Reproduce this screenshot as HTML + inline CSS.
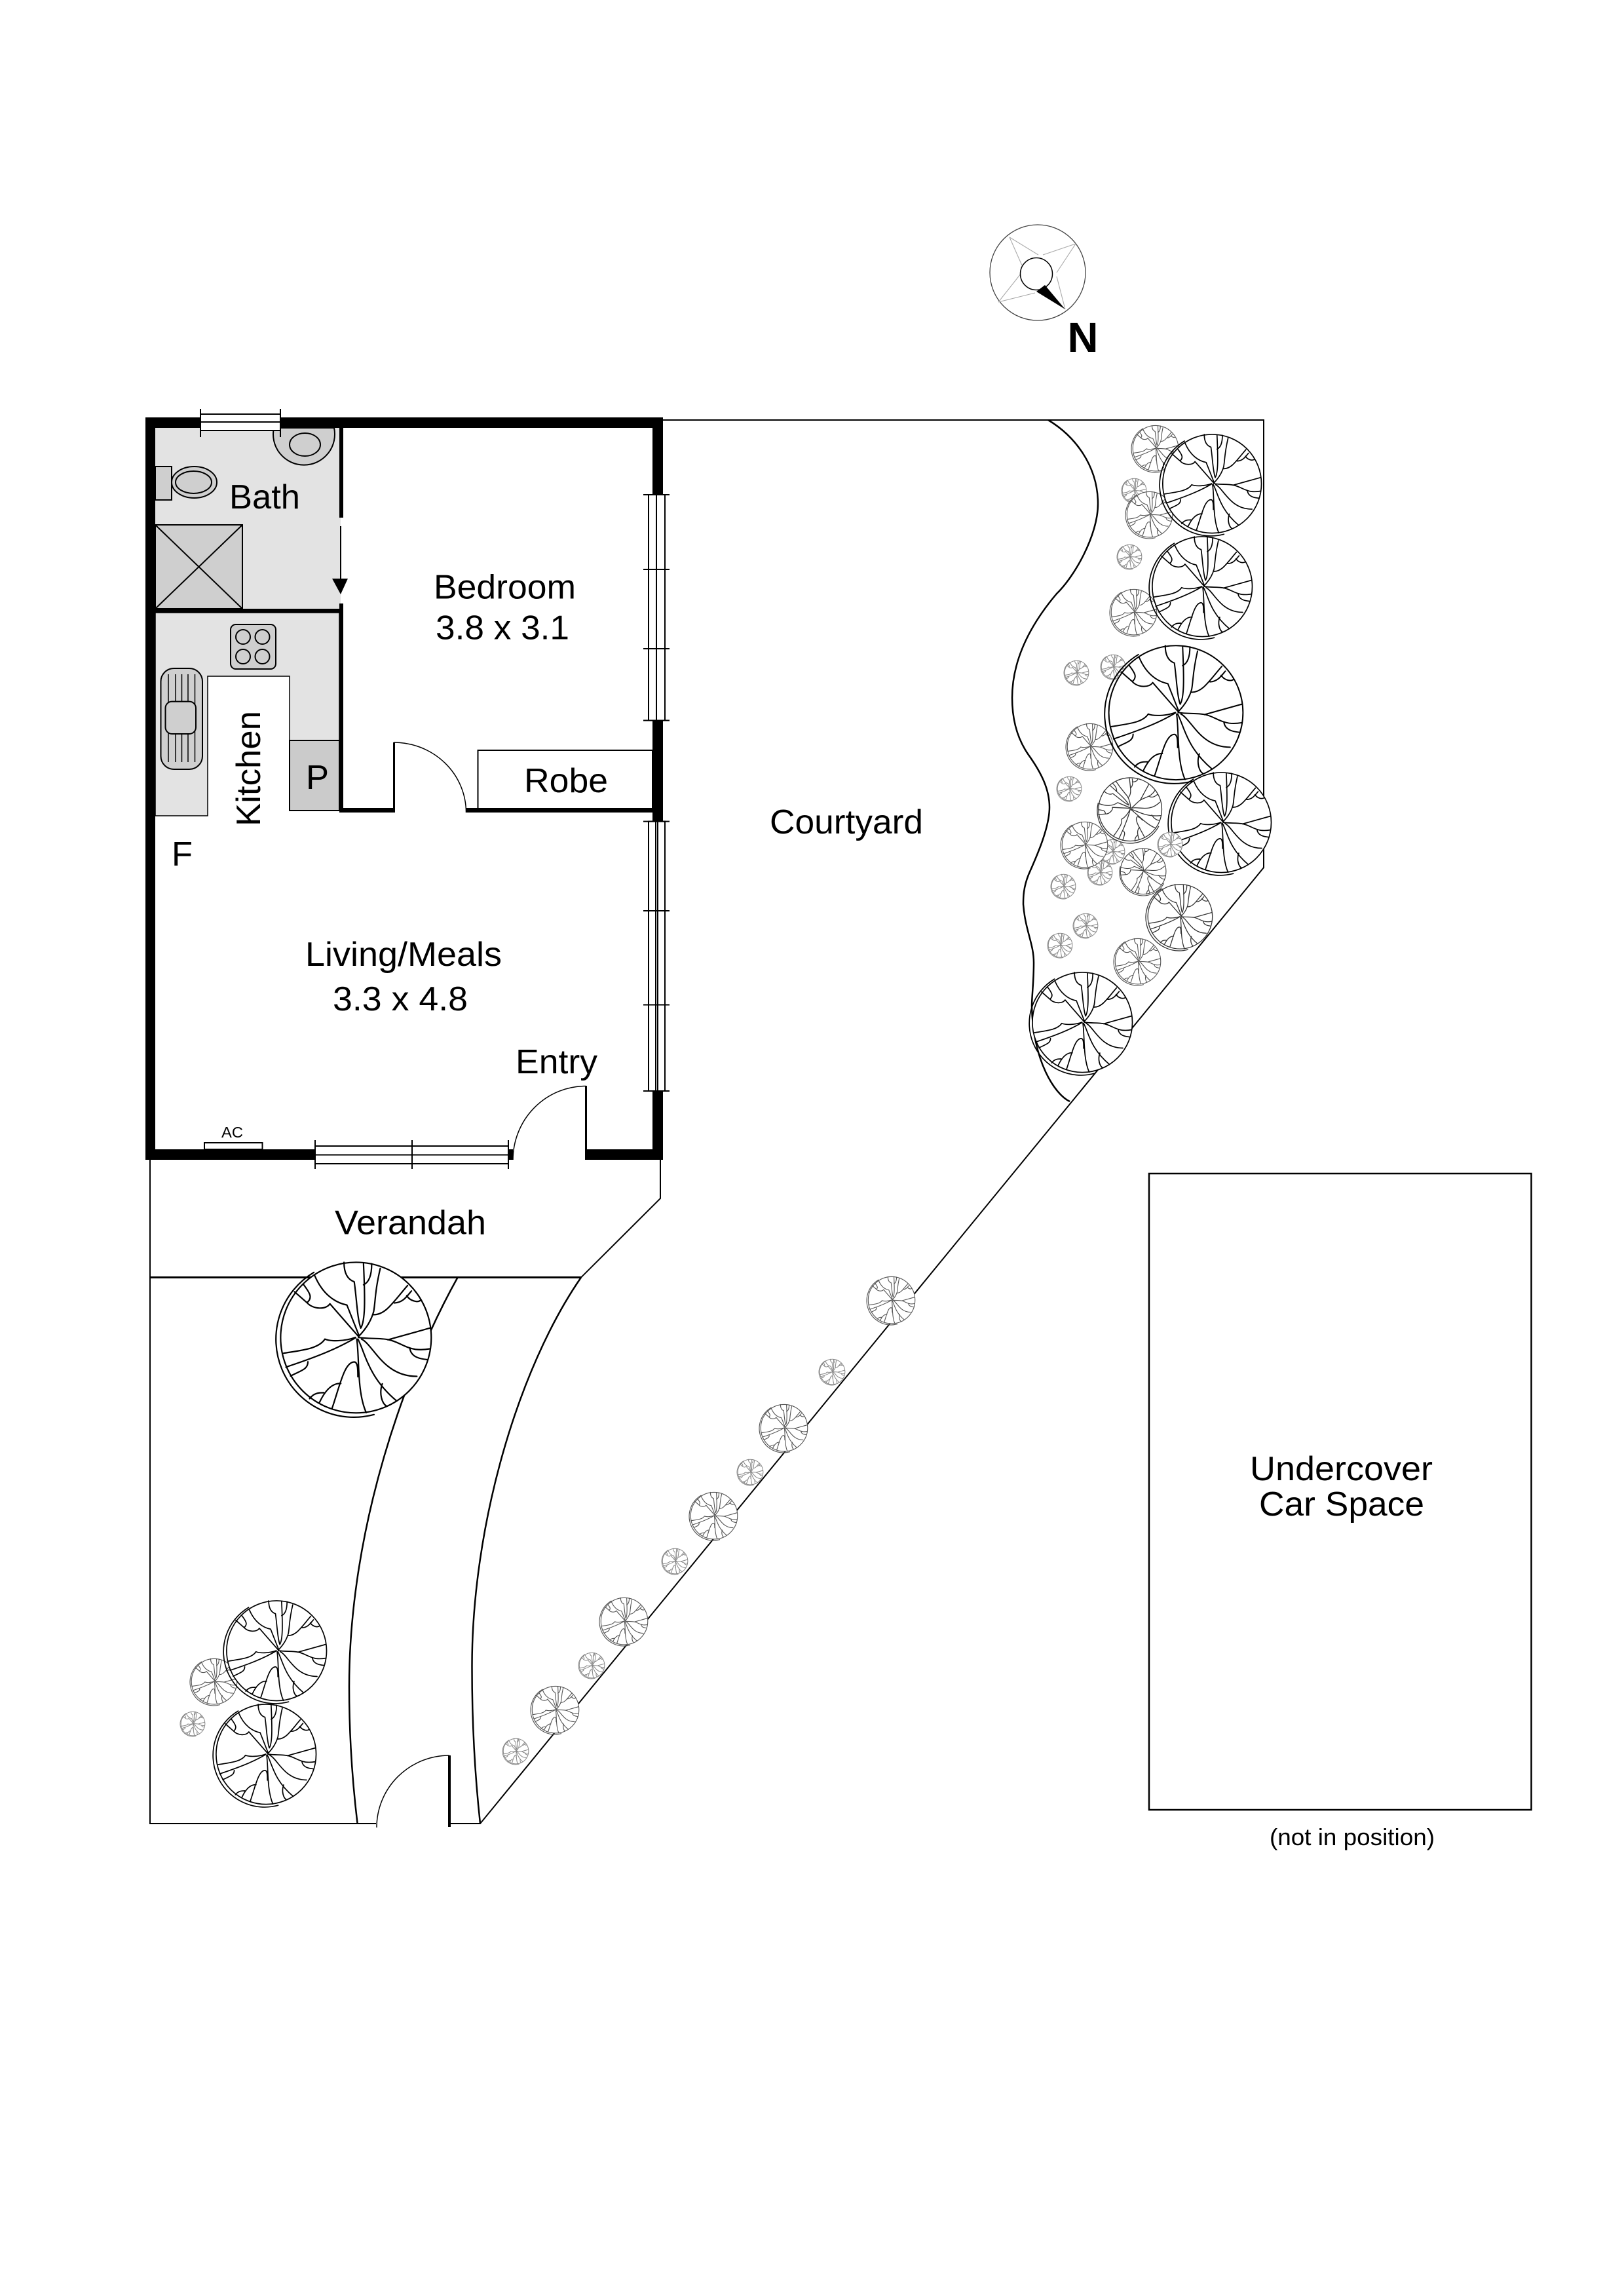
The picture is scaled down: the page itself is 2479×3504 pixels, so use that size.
<!DOCTYPE html>
<html><head><meta charset="utf-8"><style>html,body{margin:0;padding:0;background:#fff}svg{display:block}text{font-family:"Liberation Sans",Arial,sans-serif;fill:#000}path,circle{vector-effect:non-scaling-stroke}</style></head><body>
<svg xmlns="http://www.w3.org/2000/svg" width="2479" height="3504" viewBox="0 0 2479 3504">
<defs>
<g id="t" fill="none" stroke-linecap="round" stroke-linejoin="round">
<path d="M-51.200,-85.900A100,100 0 0 0 26,96.500"/>
<circle cx="2.800" cy="-2.200" r="96.600" fill="#fff"/>
<path d="M-12.500,-98.800C-12.500,-86 -8.800,-77 0.600,-73.800C3.800,-52 4.400,-27 9,-14.400C14.700,-23.800 14.700,-48.800 12.500,-97M12.500,-70C21,-73.800 23,-86 23,-97"/>
<path d="M6.900,-4.400C19.400,-17.500 24,-30 25.600,-36C28,-50 27,-61 34,-91M25.600,-31.600C41,-31.600 50,-47 69,-69M52,-46.600C63,-47 68,-55 74,-62M68,-56C72.500,-48.800 82,-47 85.600,-50"/>
<path d="M6.900,-4.400L-8.800,-44C-24,-47 -40,-58 -50,-81.600"/>
<path d="M6.300,-3.400L-30.600,-45.600C-35,-38 -52,-38 -60,-47L-76,-61M-65,-71C-55,-58 -53,-53 -60,-47"/>
<path d="M2.200,-2.500C-12,2.800 -30,2.800 -37,-0.300C-45,12 -65,13.800 -90,17.800"/>
<path d="M2.200,-1.900C-21,12 -49,23 -87,35.600M-58.800,28.800C-58.800,38.800 -68,40 -81,47"/>
<path d="M3.800,-0.300C7.500,23 3.800,67 16,94M5.300,-0.300C14.700,17 18,48 55,79M10,-0.300C25.600,7.500 38,47.500 81,47.500M36.600,57C32,70 36.600,82.500 42,85.600"/>
<path d="M-28,89C-18,60 -12,29 0.600,29C5.300,29 5.300,39 5.300,48M-44,81C-36,64 -27,56 -16.600,56.600M-56.600,76C-51,68.400 -44,68.400 -38.400,68.400"/>
<path d="M6,-2.500C19.400,-0.300 32,-1.900 44,0.300C57,2.800 65,10.600 79,12.800C87,13.800 94,12.800 97.500,12.200M43.800,0.600L97.500,-14.400M72,12C74,23 85,25 94,26"/>
</g>
</defs>

<!-- floors -->
<rect x="237" y="653" width="283" height="276" fill="#e3e3e3"/>
<path d="M237,935H518V1130H442V1032H317V1245H237Z" fill="#e3e3e3" stroke="#000" stroke-width="1.500"/>
<rect x="442" y="1130" width="76" height="107" fill="#cbcbcb" stroke="#000" stroke-width="2"/>

<!-- site lines -->
<g fill="none" stroke="#000">
<path stroke-width="2" d="M1012,641H1929V1324L733,2783H688M229,1770V2783H574M1008,1770V1829L887,1949.500" />
<path stroke-width="3" d="M229,1949.500H887"/>
<path stroke-width="2.500" d="M887,1949.500C790,2090 720,2330 720.500,2545.600C720.500,2630 725,2710 733,2783"/>
<path stroke-width="2.500" d="M698.600,1949.500C620,2090 533,2330 533,2574C533,2650 538,2720 545.600,2783"/>
<path stroke-width="2.500" d="M1600,641C1640,665 1676,710 1676,769C1676,817 1640,880 1613,906C1580,945 1545,1000 1545,1065C1545,1115 1563,1142 1570,1152C1590,1180 1602,1205 1602,1232C1602,1265 1580,1312 1570,1335C1562,1355 1562,1370 1562,1380C1565,1420 1578,1440 1578,1469C1578,1500 1575,1520 1575,1536C1577,1620 1610,1670 1633,1681"/>
<rect stroke-width="2.500" x="1754" y="1791" width="583.500" height="971"/>
</g>

<!-- walls -->
<g fill="#000">
<rect x="222" y="637" width="790" height="16"/>
<rect x="222" y="637" width="15" height="1133"/>
<rect x="996" y="637" width="16" height="118"/>
<rect x="996" y="1099" width="16" height="155"/>
<rect x="996" y="1665" width="16" height="105"/>
<rect x="222" y="1754" width="259" height="16"/>
<rect x="776" y="1754" width="7" height="16"/>
<rect x="894" y="1754" width="118" height="16"/>
<rect x="518" y="653" width="6" height="137"/>
<rect x="518" y="921" width="6" height="319"/>
<rect x="237" y="929" width="287" height="6"/>
<rect x="518" y="1233" width="84" height="7"/>
<rect x="711.500" y="1233" width="285" height="7"/>
<rect x="600" y="1133" width="3" height="107"/>
<rect x="893" y="1657" width="3" height="113"/>
<rect x="684" y="2679" width="4" height="109"/>
</g>

<!-- fixtures -->
<g stroke="#000" stroke-width="2" fill="#cfcfcf">
<path d="M418,653A47,47 0 1 0 510,653Z"/>
<ellipse cx="465.500" cy="678.500" rx="23.500" ry="17.500"/>
<rect x="237" y="801" width="133" height="128"/>
<path fill="none" d="M237,801L370,929M370,801L237,929"/>
<rect x="237" y="712" width="25" height="51"/>
<ellipse cx="296.500" cy="736" rx="34.500" ry="24"/>
<ellipse cx="295.500" cy="736" rx="27.500" ry="17"/>
<rect x="352" y="953" width="69" height="68" rx="8"/>
<ellipse cx="371" cy="972" rx="11" ry="11"/><ellipse cx="400.500" cy="972" rx="11" ry="11"/>
<ellipse cx="371" cy="1002" rx="11" ry="11"/><ellipse cx="400.500" cy="1002" rx="11" ry="11"/>
<rect x="245.500" y="1020" width="63.500" height="154" rx="20"/>
<path fill="none" stroke-width="1.500" d="M257,1029V1163M268,1029V1163M277.500,1029V1163M287,1029V1163M297.500,1029V1163"/>
<rect x="252.500" y="1070.600" width="46.500" height="49.400" rx="10"/>
</g>

<!-- windows -->
<g fill="#fff" stroke="#000" stroke-width="2">
<rect x="306" y="632" width="122" height="25"/>
<path fill="none" d="M306,644H428M306,624V667M428,624V667"/>
<rect x="990" y="755" width="25" height="344.500"/>
<path fill="none" d="M1002,755V1099.500M982,755H1022M982,869H1022M982,990H1022M982,1099.500H1022"/>
<rect x="990" y="1253.600" width="25" height="411.400"/>
<path fill="none" d="M1001,1253.600V1665M1004,1253.600V1665M982,1253.600H1022M982,1390H1022M982,1533.500H1022M982,1665H1022"/>
<rect x="481" y="1749" width="295" height="27"/>
<path fill="none" d="M481,1762.500H776M481,1740V1784M629,1740V1784M776,1740V1784"/>
</g>

<rect x="729.500" y="1145" width="266.500" height="90" fill="none" stroke="#000" stroke-width="2"/>
<rect x="312" y="1744" width="88.500" height="10" fill="none" stroke="#000" stroke-width="2"/>
<path d="M520,803V885" stroke="#000" stroke-width="2"/>
<path d="M507,883H531L520,907Z" fill="#000"/>

<!-- doors -->
<g fill="none" stroke="#000" stroke-width="1.500">
<path d="M601,1133A110.500,107 0 0 1 711.500,1240"/>
<path d="M783,1770A111,113 0 0 1 894,1657.500"/>
<path d="M575,2789A111,110 0 0 1 686,2679"/>
</g>

<!-- trees -->
<g>
<use href="#t" transform="translate(1731,749) scale(.19)" stroke="#888" stroke-width="1"/>
<use href="#t" transform="translate(1763,685) scale(.36)" stroke="#555" stroke-width="1.100"/>
<use href="#t" transform="translate(1754,786) scale(.36)" stroke="#555" stroke-width="1.100"/>
<use href="#t" transform="translate(1724,850) scale(.19)" stroke="#888" stroke-width="1"/>
<use href="#t" transform="translate(1730,935) scale(.36)" stroke="#555" stroke-width="1.100"/>
<use href="#t" transform="translate(1699,1018) scale(.19)" stroke="#888" stroke-width="1"/>
<use href="#t" transform="translate(1643,1027) scale(.19)" stroke="#888" stroke-width="1"/>
<use href="#t" transform="translate(1663,1140) scale(.36)" stroke="#555" stroke-width="1.100"/>
<use href="#t" transform="translate(1632,1204) scale(.19)" stroke="#888" stroke-width="1"/>
<use href="#t" transform="translate(1698,1300) scale(.19)" stroke="#888" stroke-width="1"/>
<use href="#t" transform="translate(1679,1332) scale(.19)" stroke="#888" stroke-width="1"/>
<use href="#t" transform="translate(1655,1290) scale(.36)" stroke="#555" stroke-width="1.100"/>
<use href="#t" transform="translate(1623,1353) scale(.19)" stroke="#888" stroke-width="1"/>
<use href="#t" transform="translate(1657,1413) scale(.19)" stroke="#888" stroke-width="1"/>
<use href="#t" transform="translate(1618,1443) scale(.19)" stroke="#888" stroke-width="1"/>
<use href="#t" transform="translate(1745,1331) rotate(-46) scale(.36)" stroke="#444" stroke-width="1.100"/>
<use href="#t" transform="translate(1736,1468) scale(.36)" stroke="#555" stroke-width="1.100"/>
<use href="#t" transform="translate(1800,1400) scale(.51)" stroke="#333" stroke-width="1.300"/>
<use href="#t" transform="translate(1725,1237) rotate(-46) scale(.5)" stroke="#333" stroke-width="1.300"/>
<use href="#t" transform="translate(1848,740) scale(.78)" stroke="#000" stroke-width="1.700"/>
<use href="#t" transform="translate(1833,897) scale(.79)" stroke="#000" stroke-width="1.700"/>
<use href="#t" transform="translate(1862,1257) scale(.79)" stroke="#000" stroke-width="1.700"/>
<use href="#t" transform="translate(1792,1090) scale(1.060)" stroke="#000" stroke-width="2"/>
<use href="#t" transform="translate(1786,1289) scale(.19)" stroke="#888" stroke-width="1"/>
<use href="#t" transform="translate(1650,1562) scale(.79)" stroke="#000" stroke-width="1.700"/>
<use href="#t" transform="translate(1360,1985) scale(.37)" stroke="#555" stroke-width="1.100"/>
<use href="#t" transform="translate(1270,2094) scale(.2)" stroke="#888" stroke-width="1"/>
<use href="#t" transform="translate(1196,2180) scale(.37)" stroke="#555" stroke-width="1.100"/>
<use href="#t" transform="translate(1145,2247) scale(.2)" stroke="#888" stroke-width="1"/>
<use href="#t" transform="translate(1089,2314) scale(.37)" stroke="#555" stroke-width="1.100"/>
<use href="#t" transform="translate(1030,2383) scale(.2)" stroke="#888" stroke-width="1"/>
<use href="#t" transform="translate(952,2475) scale(.37)" stroke="#555" stroke-width="1.100"/>
<use href="#t" transform="translate(903,2542) scale(.2)" stroke="#888" stroke-width="1"/>
<use href="#t" transform="translate(847,2610) scale(.37)" stroke="#555" stroke-width="1.100"/>
<use href="#t" transform="translate(787,2673) scale(.2)" stroke="#888" stroke-width="1"/>
<use href="#t" transform="translate(326,2567) scale(.36)" stroke="#555" stroke-width="1.100"/>
<use href="#t" transform="translate(294,2631) scale(.19)" stroke="#888" stroke-width="1"/>
<use href="#t" transform="translate(420,2521) scale(.79)" stroke="#000" stroke-width="1.700"/>
<use href="#t" transform="translate(404,2679) scale(.79)" stroke="#000" stroke-width="1.700"/>
<use href="#t" transform="translate(540,2044) scale(1.190)" stroke="#000" stroke-width="2.200"/>
</g>

<!-- compass -->
<g fill="none">
<circle cx="1584" cy="416" r="73" stroke="#444" stroke-width="1.300"/>
<path stroke="#aaa" stroke-width="1.100" d="M1541,362L1585,389M1541,362L1560,405M1592,389L1642,372L1613,416M1613,422L1626,472M1524,461L1558,418M1524,461L1580,447"/>
<circle cx="1582" cy="418" r="24.500" stroke="#000" stroke-width="1.500"/>
</g>
<path d="M1582,445L1595,435L1626,472Z" fill="#000"/>
<text x="1629.500" y="537" font-size="64" font-weight="700" textLength="47" lengthAdjust="spacingAndGlyphs">N</text>

<!-- labels -->
<g font-size="52">
<text x="350" y="776" textLength="108" lengthAdjust="spacingAndGlyphs">Bath</text>
<text x="662" y="913.500" textLength="217" lengthAdjust="spacingAndGlyphs">Bedroom</text>
<text x="665" y="975.500" textLength="204" lengthAdjust="spacingAndGlyphs">3.8 x 3.1</text>
<text x="800" y="1209" textLength="128" lengthAdjust="spacingAndGlyphs">Robe</text>
<text x="467" y="1204" textLength="35" lengthAdjust="spacingAndGlyphs">P</text>
<text x="262" y="1321" textLength="32" lengthAdjust="spacingAndGlyphs">F</text>
<text transform="translate(397,1261) rotate(-90)" x="0" y="0" textLength="176" lengthAdjust="spacingAndGlyphs">Kitchen</text>
<text x="466" y="1474" textLength="300" lengthAdjust="spacingAndGlyphs">Living/Meals</text>
<text x="508" y="1542" textLength="206" lengthAdjust="spacingAndGlyphs">3.3 x 4.8</text>
<text x="787" y="1638" textLength="125" lengthAdjust="spacingAndGlyphs">Entry</text>
<text x="511" y="1883.500" textLength="231" lengthAdjust="spacingAndGlyphs">Verandah</text>
<text x="1175" y="1272" textLength="234" lengthAdjust="spacingAndGlyphs">Courtyard</text>
<text x="1908" y="2259" textLength="279" lengthAdjust="spacingAndGlyphs">Undercover</text>
<text x="1922" y="2313" textLength="252" lengthAdjust="spacingAndGlyphs">Car Space</text>
</g>
<text x="338" y="1736" font-size="23.500" textLength="33" lengthAdjust="spacingAndGlyphs">AC</text>
<text x="1938" y="2816" font-size="36.500" textLength="252" lengthAdjust="spacingAndGlyphs">(not in position)</text>
</svg>
</body></html>
